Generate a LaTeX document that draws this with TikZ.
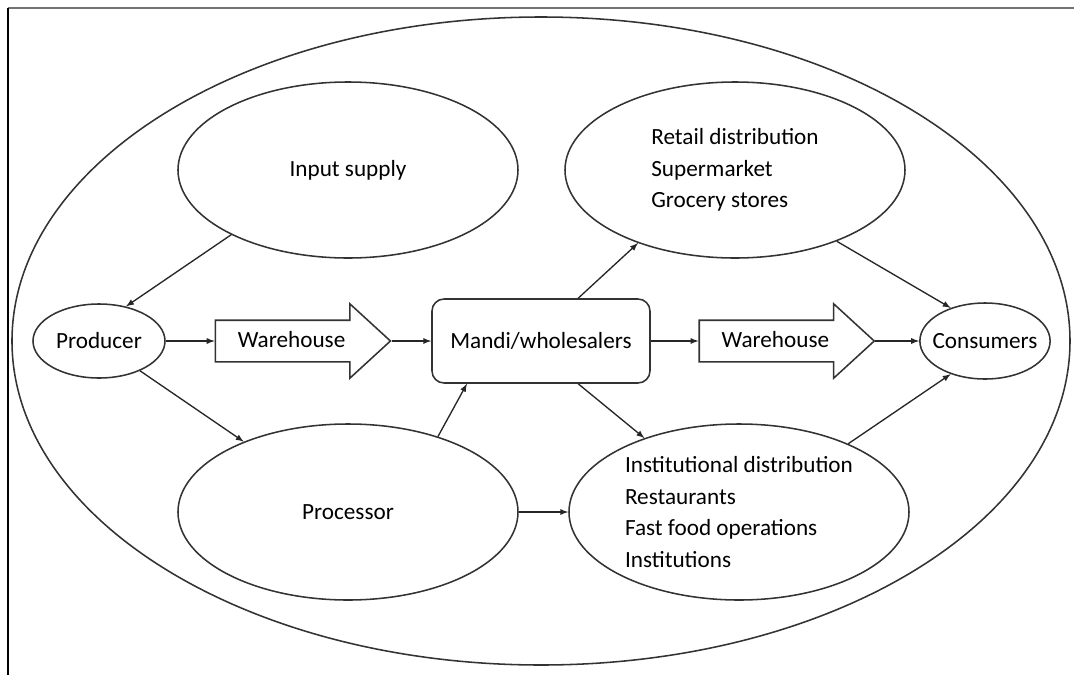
\documentclass[tikz,border=0pt]{standalone}
\usepackage{fontspec}
\setmainfont{Carlito}
\usepackage{tikz}
\usetikzlibrary{shapes.geometric, shapes.arrows, arrows}
\tikzstyle{market} = [ellipse, minimum width=8.5cm, minimum height=4.4cm, inner sep=0pt, align=left, draw=black!80, line width=1.1pt]
\tikzstyle{actor} = [ellipse, minimum width=3.3cm, minimum height=1.85cm, inner ysep=0.15cm, text centered, draw=black!80, line width=1.1pt]
\tikzstyle{hub} = [rectangle, rounded corners=0.3cm, minimum width=5.45cm, minimum height=2.1cm, text centered, draw=black!80, line width=1.1pt]
\tikzstyle{store} = [single arrow, single arrow head extend=0.41cm, single arrow tip angle=85, minimum height=4.375cm, text height=0.35cm, text depth=0.05cm, inner ysep=0.3cm, draw=black!80, line width=1.1pt]
\tikzstyle{arrow} = [line width=0.95pt,->,>=latex, black!85]

\begin{document}
\begin{tikzpicture}[node distance=2cm, font=\fontsize{16.5}{22.4}\selectfont]
\useasboundingbox (-13.525,-8.35) rectangle (13.325,8.525);
% frame of the figure
\draw [black!55, line width=0.05cm] (-13.325,8.3375) -- (13.325,8.3375);
\draw [line width=0.04cm] (-13.325,8.3375) -- (-13.325,-8.35);

\node (chain) [ellipse, minimum width=26.45cm, minimum height=16.2cm, draw=black!80, line width=1.1pt] {};

\node (mandi) [hub] {Mandi/wholesalers};
\node (wh1) [store, left of=mandi, xshift=-4.235cm] {Warehouse};
\node (prod) [actor, left of=wh1, xshift=-2.815cm, inner xsep=0.09cm] {Producer};
\node (wh2) [store, right of=mandi, xshift=3.86cm] {Warehouse};
\node (cons) [actor, right of=wh2, xshift=3.24cm, minimum width=3.25cm, minimum height=1.9cm, inner xsep=-0.16cm] {Consumers};

\node (input) [market, above of=mandi, xshift=-4.825cm, yshift=2.275cm] {Input supply};
\node (proc) [market, below of=mandi, xshift=-4.825cm, yshift=-2.275cm] {Processor};
\node (retail) [market, above of=mandi, xshift=4.85cm, yshift=2.275cm] {Retail distribution\\ Supermarket\\ Grocery stores};
\node (inst) [market, below of=mandi, xshift=4.95cm, yshift=-2.275cm] {Institutional distribution\\ Restaurants\\ Fast food operations\\ Institutions};

\draw [arrow] (input.209.6) -- (prod.52);
\draw [arrow] (prod.east) -- (wh1.tail);
\draw [arrow] (wh1.tip) -- (mandi.west);
\draw [arrow] (prod.-36) -- (proc.146.8);
\draw [arrow] (proc.40.3) -- (mandi.210);
\draw [arrow] (proc.east) -- (inst.west);

\draw [arrow] (mandi.49.3) -- (retail.217);
\draw [arrow] (mandi.-49) -- (inst.142.8);
\draw [arrow] (mandi.east) -- (wh2.tail);
\draw [arrow] (wh2.tip) -- (cons.west);
\draw [arrow] (retail.-35) -- (cons.136);
\draw [arrow] (inst.32) -- (cons.224);

\end{tikzpicture}
\end{document}
